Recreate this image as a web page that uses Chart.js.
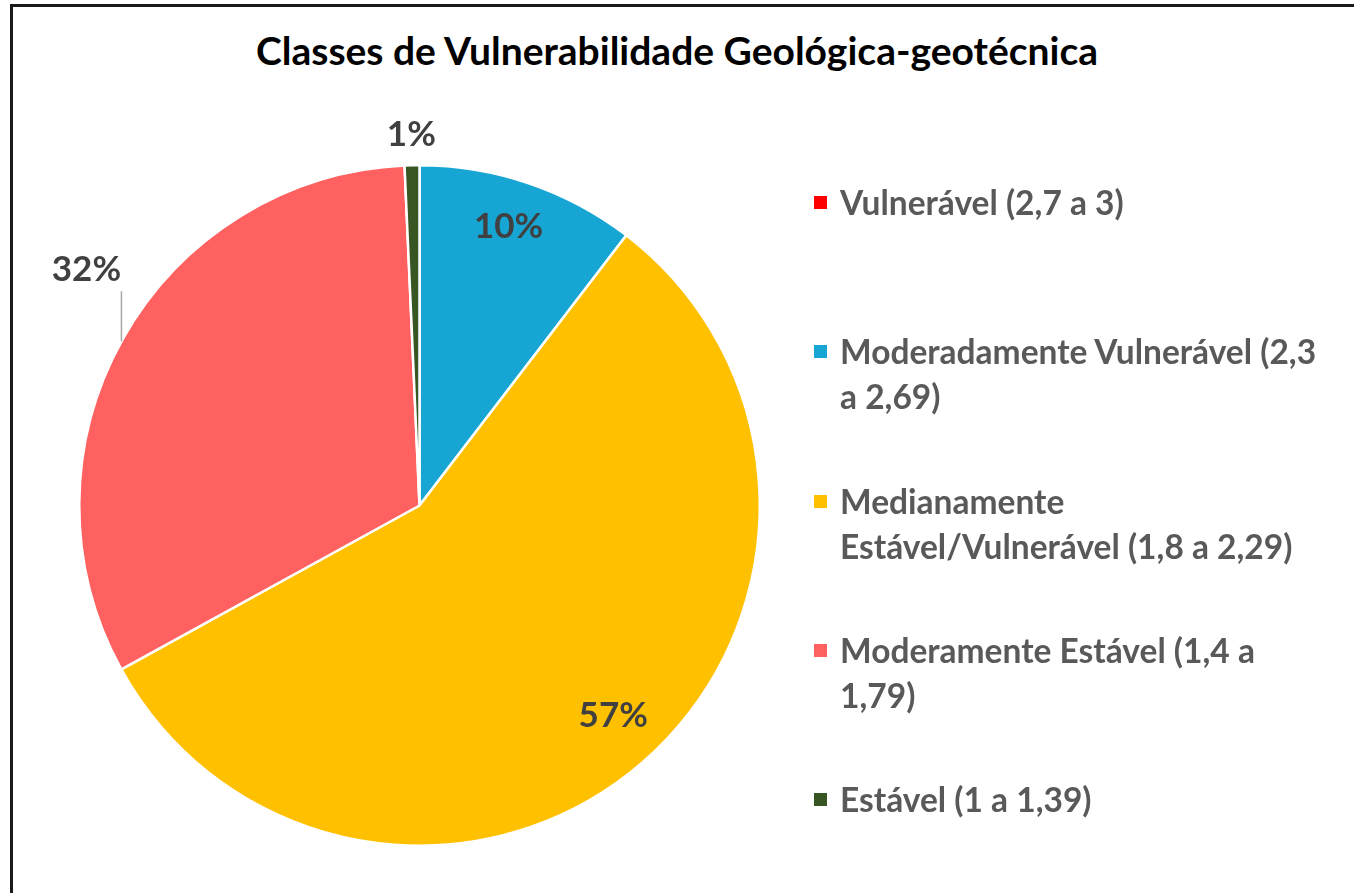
<!DOCTYPE html>
<html>
<head>
<meta charset="utf-8">
<script src="https://cdn.jsdelivr.net/npm/chart.js@4.4.1/dist/chart.umd.min.js"></script>
<style>
  html, body { margin: 0; padding: 0; background: #fff; }
  #wrap { position: relative; width: 1354px; height: 893px; overflow: hidden; font-family: Lato, "Open Sans", sans-serif; }
  #frame { position: absolute; left: 10px; top: 4px; right: -10px; bottom: -10px; border-top: 3px solid #1a1a1a; border-left: 3px solid #1a1a1a; }
  #title { position: absolute; left: 0; width: 1354px; top: 27px; text-align: center; font-size: 39px; font-weight: bold; color: #000; }
  #pieChart { position: absolute; left: 0; top: 0; }
  .legItem { position: absolute; left: 812px; width: 540px; font-size: 33.5px; font-weight: bold; color: #595959; line-height: 45px; padding-left: 28px; }
  .legBox { position: absolute; left: 2px; top: 16px; width: 13px; height: 13px; }
</style>
</head>
<body>
<div id="wrap">
  <div id="frame"></div>
  <div id="title">Classes de Vulnerabilidade Geológica-geotécnica</div>
  <canvas id="pieChart" width="1354" height="893"></canvas>
  <div id="legend"></div>
</div>
<script>
// classes, in the order Excel draws them (clockwise from 12 o'clock)
const classes = [
  'Vulnerável (2,7 a 3)',
  'Moderadamente Vulnerável (2,3 a 2,69)',
  'Medianamente Estável/Vulnerável (1,8 a 2,29)',
  'Moderamente Estável (1,4 a 1,79)',
  'Estável (1 a 1,39)'
]
// share of area, percent
const shares = [0, 10.4, 56.6, 32.3, 0.7]
const percentLabels = ['0%', '10%', '57%', '32%', '1%']
const colors = ['#FF0000', '#17A5D3', '#FFC000', '#FF6161', '#375623']

// legend line breaks like the original
const legendLines = [
  ['Vulnerável (2,7 a 3)'],
  ['Moderadamente Vulnerável (2,3', 'a 2,69)'],
  ['Medianamente', 'Estável/Vulnerável (1,8 a 2,29)'],
  ['Moderamente Estável (1,4 a', '1,79)'],
  ['Estável (1 a 1,39)']
]

// where each % label sits: fraction of radius along the slice middle
const labelRadius = [1, 0.86, 0.84, 1.2, 1.09]
const labelAngleShift = [0, -1, -2, 6, 0]  // degrees
const leaderLine = [false, false, false, true, false]

const pctLabels = {
  id: 'pctLabels',
  afterDatasetsDraw(chart) {
    const ctx = chart.ctx
    const meta = chart.getDatasetMeta(0)
    ctx.save()
    ctx.font = 'bold 35px Lato, "Open Sans", sans-serif'
    ctx.fillStyle = '#404040'
    ctx.textAlign = 'center'
    ctx.textBaseline = 'middle'
    meta.data.forEach(function(arc, i) {
      if (!shares[i]) { return }
      const p = arc.getProps(['x', 'y', 'startAngle', 'endAngle', 'outerRadius'], true)
      const mid = (p.startAngle + p.endAngle) / 2 + labelAngleShift[i] * Math.PI / 180
      const r = p.outerRadius * labelRadius[i]
      const lx = p.x + Math.cos(mid) * r
      const ly = p.y + Math.sin(mid) * r
      ctx.fillText(percentLabels[i], lx, ly)
      if (leaderLine[i]) {
        const x = lx + 35
        const y2 = p.y - Math.sqrt(p.outerRadius * p.outerRadius - (x - p.x) * (x - p.x))
        ctx.strokeStyle = '#A6A6A6'
        ctx.lineWidth = 1.5
        ctx.beginPath()
        ctx.moveTo(x, ly + 22)
        ctx.lineTo(x, y2)
        ctx.stroke()
      }
    })
    ctx.restore()
  }
}

const data = {
  labels: classes,
  datasets: [{
    data: shares,
    backgroundColor: colors,
    borderColor: '#FFFFFF',
    borderWidth: 2.5
  }]
}

const config = {
  type: 'pie',
  data: data,
  options: {
    responsive: false,
    animation: false,
    layout: {
      padding: { left: 78, top: 164, right: 593, bottom: 46 }
    },
    plugins: {
      legend: { display: false },
      tooltip: { enabled: false },
      title: { display: false }
    }
  },
  plugins: [pctLabels]
}

const pieChart = new Chart(document.getElementById('pieChart'), config)

// html legend, built from the same arrays
const legend = document.getElementById('legend')
legendLines.forEach(function(lines, i) {
  const item = document.createElement('div')
  item.className = 'legItem'
  item.style.top = (180 + 149.3 * i) + 'px'
  const box = document.createElement('div')
  box.className = 'legBox'
  box.style.background = colors[i]
  item.appendChild(box)
  lines.forEach(function(t) {
    const line = document.createElement('div')
    line.textContent = t
    item.appendChild(line)
  })
  legend.appendChild(item)
})
</script>
</body>
</html>
